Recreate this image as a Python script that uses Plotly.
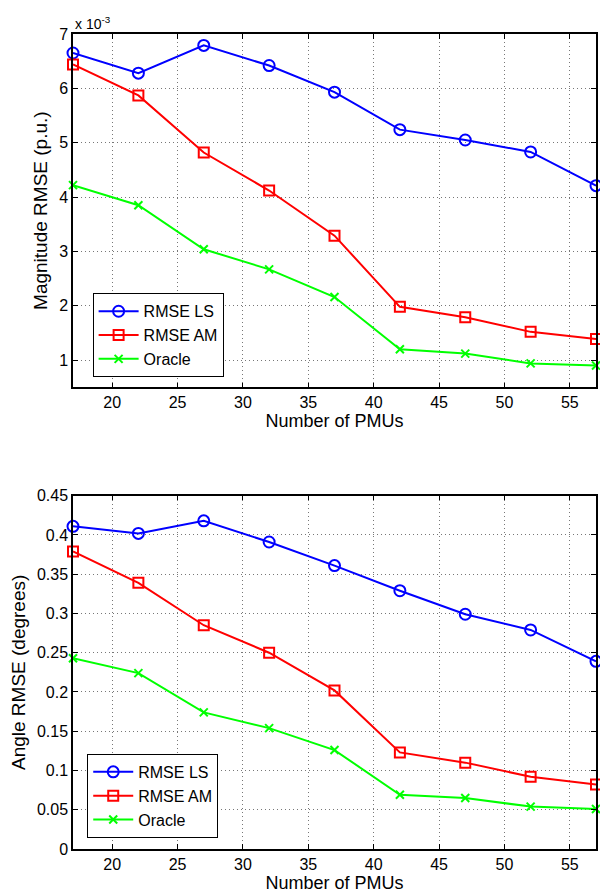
import plotly.graph_objects as go

# number of PMUs
pmus = [17, 22, 27, 32, 37, 42, 47, 52, 57]

# magnitude RMSE (x 1e-3 p.u.)
mag_ls = [6.65, 6.28, 6.79, 6.42, 5.93, 5.24, 5.05, 4.83, 4.21]
mag_am = [6.44, 5.87, 4.82, 4.12, 3.29, 1.98, 1.79, 1.52, 1.39]
mag_oracle = [4.22, 3.85, 3.04, 2.67, 2.16, 1.20, 1.12, 0.94, 0.90]

# angle RMSE (degrees)
ang_ls = [0.411, 0.402, 0.418, 0.391, 0.361, 0.329, 0.299, 0.279, 0.239]
ang_am = [0.379, 0.339, 0.285, 0.250, 0.202, 0.123, 0.110, 0.092, 0.082]
ang_oracle = [0.243, 0.224, 0.174, 0.154, 0.126, 0.069, 0.065, 0.054, 0.051]

FONT = "Liberation Sans, Arial, sans-serif"

styles = [
    ("RMSE LS", "#0000ff", dict(symbol="circle-open", size=11, line=dict(width=2, color="#0000ff"))),
    ("RMSE AM", "#ff0000", dict(symbol="square-open", size=10, line=dict(width=2, color="#ff0000"))),
    ("Oracle", "#00ff00", dict(symbol="x-thin-open", size=8, line=dict(width=2, color="#00ff00"))),
]

fig = go.Figure()

for (name, color, marker), ys in zip(styles, [mag_ls, mag_am, mag_oracle]):
    fig.add_trace(go.Scatter(
        x=pmus, y=ys, name=name, mode="lines+markers",
        line=dict(color=color, width=2), marker=marker,
        xaxis="x", yaxis="y", legend="legend", cliponaxis=False,
    ))

for (name, color, marker), ys in zip(styles, [ang_ls, ang_am, ang_oracle]):
    fig.add_trace(go.Scatter(
        x=pmus, y=ys, name=name, mode="lines+markers",
        line=dict(color=color, width=2), marker=marker,
        xaxis="x2", yaxis="y2", legend="legend2", cliponaxis=False,
    ))

axis_common = dict(
    showline=True, linecolor="black", linewidth=1.5, mirror="ticks",
    ticks="inside", ticklen=5, tickcolor="black", tickwidth=1,
    showgrid=True, gridcolor="#777777", gridwidth=1, griddash="1px,3px",
    zeroline=False, tickfont=dict(size=16, color="black"),
)

xaxis_common = dict(axis_common, range=[17, 57], tick0=20, dtick=5,
                    title=dict(text="Number of PMUs", font=dict(size=18, color="black"), standoff=1))

legend_common = dict(
    bgcolor="white", bordercolor="black", borderwidth=1,
    font=dict(size=16, color="black"), xref="paper", yref="paper",
    xanchor="left", yanchor="top", tracegroupgap=0, itemwidth=40,
)

fig.update_layout(
    width=600, height=893,
    margin=dict(l=73, r=2, t=34, b=44),
    paper_bgcolor="white", plot_bgcolor="white",
    font=dict(family=FONT, color="black"),
    xaxis=dict(xaxis_common, domain=[0, 1], anchor="y"),
    yaxis=dict(axis_common, domain=[0.5665, 1], anchor="x", range=[0.5, 7], dtick=1, tick0=0,
               title=dict(text="Magnitude RMSE (p.u.)", font=dict(size=19, color="black"), standoff=6)),
    xaxis2=dict(xaxis_common, domain=[0, 1], anchor="y2"),
    yaxis2=dict(axis_common, domain=[0, 0.4335], anchor="x2", range=[0, 0.45], dtick=0.05, tick0=0,
                title=dict(text="Angle RMSE (degrees)", font=dict(size=19, color="black"), standoff=6)),
    legend=dict(legend_common, x=0.0375, y=0.6818),
    legend2=dict(legend_common, x=0.0272, y=0.1166),
    annotations=[dict(
        text="x 10<sup>-3</sup>", xref="paper", yref="paper", x=0, y=1.0,
        xanchor="left", yanchor="bottom", showarrow=False,
        font=dict(size=14, color="black"),
    )],
)

# page body margin would push the 600x893 figure out of the window
fig.write_html("out.html", config={"displayModeBar": False},
               post_script="document.body.style.margin='0';document.body.style.overflow='hidden';")
